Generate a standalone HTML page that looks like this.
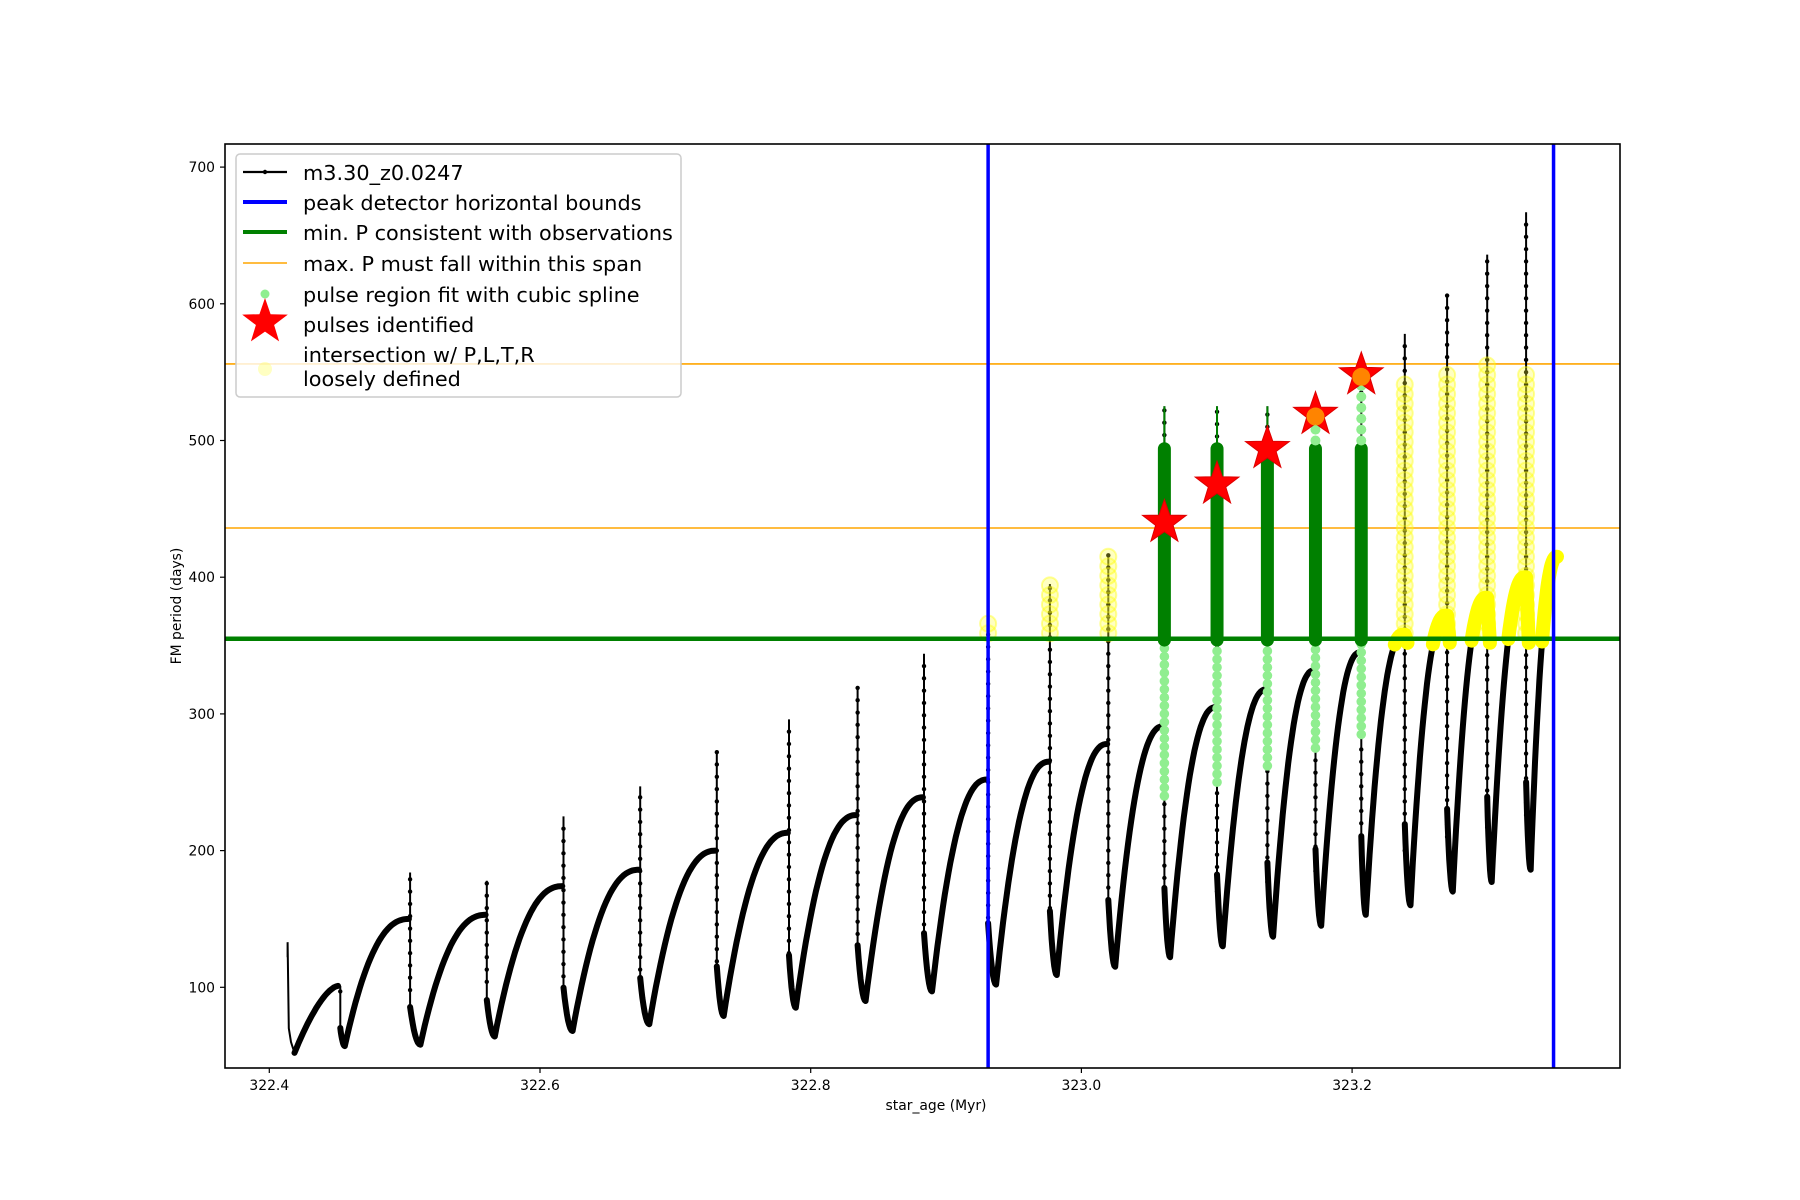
<!DOCTYPE html>
<html><head><meta charset="utf-8"><style>
html,body{margin:0;padding:0;background:#fff;}
svg{display:block;font-family:"DejaVu Sans","Liberation Sans",sans-serif;}
</style></head><body>
<svg id="s" width="1800" height="1200" xmlns="http://www.w3.org/2000/svg">
<rect width="1800" height="1200" fill="#fff"/>
<defs><clipPath id="ax"><rect x="225" y="144" width="1395" height="924"/></clipPath></defs>
<g id="plot" clip-path="url(#ax)"></g>
<rect x="225" y="144" width="1395" height="924" fill="none" stroke="#000" stroke-width="1.6"/>
<g id="ticks" font-size="13.9" fill="#000"></g>
<text x="936" y="1110" font-size="13.9" text-anchor="middle">star_age (Myr)</text>
<text transform="translate(181,606) rotate(-90)" font-size="13.9" text-anchor="middle">FM period (days)</text>
<g id="legend">
<rect x="236" y="154" width="445" height="243" rx="4" fill="#fff" fill-opacity="0.8" stroke="#ccc" stroke-width="1.5"/>
<line x1="243" y1="172" x2="287" y2="172" stroke="#000" stroke-width="2.2"/><circle cx="265" cy="172" r="2.2"/>
<line x1="243" y1="202" x2="287" y2="202" stroke="#00f" stroke-width="4"/>
<line x1="243" y1="232" x2="287" y2="232" stroke="#008000" stroke-width="4"/>
<line x1="243" y1="263" x2="287" y2="263" stroke="#ffa500" stroke-width="1.6"/>
<circle cx="265" cy="294" r="4.5" fill="#90ee90"/>
<polygon id="lstar" fill="#f00"/>
<circle cx="265" cy="369" r="7" fill="#ffff66" fill-opacity="0.4"/>
<g font-size="20.8">
<text x="303" y="180">m3.30_z0.0247</text>
<text x="303" y="210">peak detector horizontal bounds</text>
<text x="303" y="240">min. P consistent with observations</text>
<text x="303" y="271">max. P must fall within this span</text>
<text x="303" y="302">pulse region fit with cubic spline</text>
<text x="303" y="332">pulses identified</text>
<text x="303" y="362">intersection w/ P,L,T,R</text>
<text x="303" y="386">loosely defined</text>
</g>
</g>
</svg>
<script>
const NS="http://www.w3.org/2000/svg";
const X=t=>269.3+(t-322.4)*1353.5, Y=p=>987.3-(p-100)*1.367;
const D=d=>322.4+(d-234)/1182.5;
const plot=document.getElementById('plot');
function el(n,a,par){const e=document.createElementNS(NS,n);for(const k in a)e.setAttribute(k,a[k]);(par||plot).appendChild(e);return e;}
function starPts(cx,cy,R){const r=R*0.4;let s=[];for(let i=0;i<10;i++){const a=-Math.PI/2+i*Math.PI/5;const rr=i%2?r:R;s.push((cx+rr*Math.cos(a)).toFixed(1)+','+(cy+rr*Math.sin(a)).toFixed(1));}return s.join(' ');}
document.getElementById('lstar').setAttribute('points',starPts(265,322,24));
const C=[[296,101,57,300,150],[357,184,58,366,153],[424,178,64,431,174],[491,225,68,499,186],[558,247,73,566,200],[625,273,79,631,213],[688,296,85,694,226],[748,320,90,755,239],[806,344,97,813,252],[862,360,102,869,265],[916,395,109,922,278],[967,417,115,973,291],[1016,525,122,1021,305],[1062,525,130,1067,318],[1106,525,137,1111,332],[1148,500,145,1153,345],[1188,560,153,1192,358],[1226,578,160,1231,372],[1263,607,170,1268,385],[1298,636,177,1302,400],[1332,667,186,1336,415]];
let thick=[], thin=[], yellow=[];
let p0=[[D(250),122],[D(250),133],[D(251),70],[D(253),60],[D(256),52]];
let seg=[[D(256),52]];
for(let i=1;i<=20;i++){const u=i/20;seg.push([D(256+u*(294-256)),52+(101-52)*(1-Math.pow(1-u,1.6))]);}
thin.push(p0);thick.push(seg);
for(let k=0;k<C.length;k++){
 const [sx,pk,mn,mx,nmax]=C[k];
 const prevMax=k==0?101:C[k-1][4];
 const ts=D(sx), nx=k<C.length-1?C[k+1][0]:1360;
 thin.push([[ts,prevMax],[ts,pk],[ts,mn+(prevMax-mn)*0.2]]);
 let s=[[ts,mn+(prevMax-mn)*0.3]];
 for(let i=1;i<=8;i++){const u=i/8;s.push([D(sx+u*(mx-sx)),mn+(prevMax-mn)*0.3*(1-u)*(1-u)]);}
 for(let i=1;i<=30;i++){const u=i/30;s.push([D(mx+u*(nx-1-mx)),mn+(nmax-mn)*(1-Math.pow(1-u,2.3))]);}
 thick.push(s);
 if(k>=16){
  let ys=s.filter(q=>q[1]>=350);
  if(k<C.length-1){ys.push([D(nx),nmax]);ys.push([D(nx)+0.002,352]);}
  if(ys.length)yellow.push(ys);
 }
}
const pth=a=>a.map((q,i)=>(i?'L':'M')+X(q[0]).toFixed(1)+' '+Y(q[1]).toFixed(1)).join('');
el('line',{x1:225,x2:1620,y1:Y(436),y2:Y(436),stroke:'#ffa500','stroke-width':1.6});
el('line',{x1:225,x2:1620,y1:Y(556),y2:Y(556),stroke:'#ffa500','stroke-width':1.6});
thin.forEach(a=>el('path',{d:pth(a),fill:'none',stroke:'#000','stroke-width':2}));
thick.forEach(a=>el('path',{d:pth(a),fill:'none',stroke:'#000','stroke-width':6,'stroke-linejoin':'round','stroke-linecap':'round'}));
C.forEach(c=>{const x=X(D(c[0]));for(let p=c[2]+40;p<c[1];p+=9)el('circle',{cx:x,cy:Y(p),r:2.2,fill:'#000'});});
[[862,355,370],[916,355,395],[967,355,417],[1226,355,545],[1263,355,552],[1298,355,556],[1332,355,548]].forEach(a=>{const x=X(D(a[0]));for(let p=a[1]+4;p<=a[2];p+=7)el('circle',{cx:x,cy:Y(p),r:8,fill:'#ffff33','fill-opacity':0.3,stroke:'#ffff00','stroke-opacity':0.4,'stroke-width':2});});
yellow.forEach(a=>el('path',{d:pth(a),fill:'none',stroke:'#ffff00','stroke-width':14,'stroke-linejoin':'round','stroke-linecap':'round'}));
[[1016,240,525],[1062,250,525],[1106,262,525],[1148,275,500],[1188,285,500]].forEach(a=>{const x=X(D(a[0]));
 for(let p=a[1];p<352;p+=6)el('circle',{cx:x,cy:Y(p),r:4.8,fill:'#90ee90'});
 el('line',{x1:x,x2:x,y1:Y(497),y2:Y(a[2]),stroke:'#008000','stroke-width':2});
 el('line',{x1:x,x2:x,y1:Y(354),y2:Y(494),stroke:'#008000','stroke-width':13,'stroke-linecap':'round'});
});
[[1148,500,520],[1188,500,545]].forEach(a=>{const x=X(D(a[0]));for(let p=a[1];p<a[2];p+=8)el('circle',{cx:x,cy:Y(p),r:5,fill:'#90ee90'});});
el('line',{x1:225,x2:1620,y1:Y(355),y2:Y(355),stroke:'#008000','stroke-width':4.5});
[[1016,440],[1062,468],[1106,494],[1148,519],[1188,548]].forEach((s,i)=>{const x=X(D(s[0])),y=Y(s[1]);
 el('polygon',{points:starPts(x,y,23),fill:'#f00',stroke:'#d00','stroke-width':1});
 if(i>=3)el('circle',{cx:x,cy:y+2,r:9,fill:'#ffa500','fill-opacity':0.8});});
[862,1356].forEach(d=>{const x=X(D(d));el('line',{x1:x,x2:x,y1:144,y2:1068,stroke:'#00f','stroke-width':3.5});});
const tk=document.getElementById('ticks');
[100,200,300,400,500,600,700].forEach(v=>{const y=Y(v);el('line',{x1:220,x2:225,y1:y,y2:y,stroke:'#000','stroke-width':1.2},tk);el('text',{x:215,y:y+5,'text-anchor':'end'},tk).textContent=v;});
['322.4','322.6','322.8','323.0','323.2'].forEach(v=>{const x=X(parseFloat(v));el('line',{x1:x,x2:x,y1:1068,y2:1073,stroke:'#000','stroke-width':1.2},tk);el('text',{x:x,y:1090,'text-anchor':'middle'},tk).textContent=v;});
</script>
</body></html>
